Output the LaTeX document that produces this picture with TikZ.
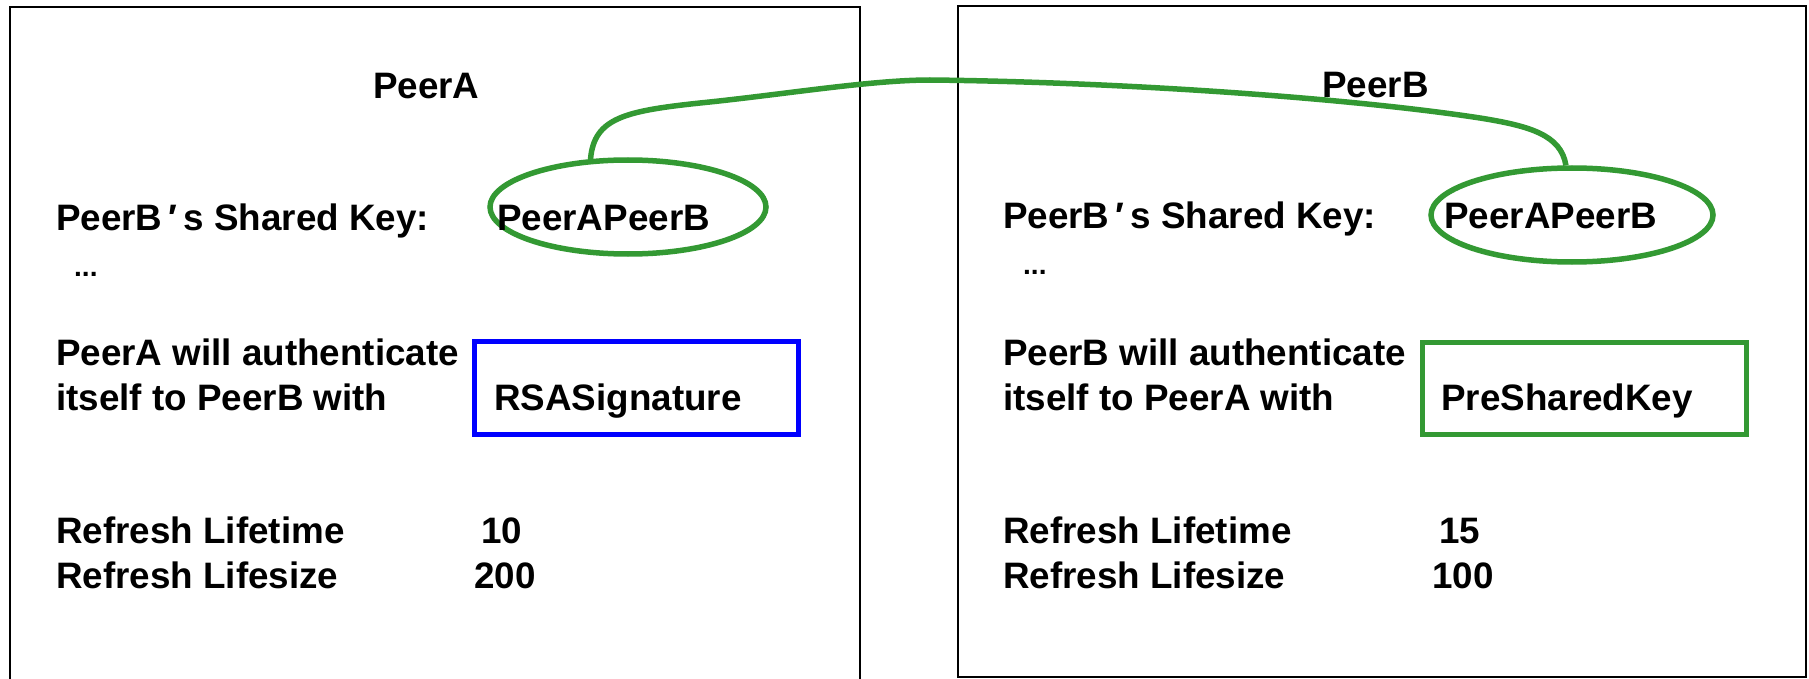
\documentclass[tikz,border=0pt]{standalone}
\usepackage{fontspec}
\setmainfont{Liberation Sans}
\usetikzlibrary{shapes.geometric}
\definecolor{kgreen}{RGB}{51,153,51}
\definecolor{kblue}{RGB}{0,0,255}
\tikzset{
  txt/.style={anchor=base west, inner sep=0pt, font=\fontsize{36.8}{44}\selectfont\bfseries},
  dots/.style={anchor=base west, inner sep=0pt, font=\fontsize{28}{32}\selectfont\bfseries},
  frame/.style={draw=black, line width=2pt},
  keyell/.style={draw=kgreen, line width=5.5pt, ellipse, inner sep=0pt},
  authbox/.style={draw, line width=5pt, rectangle, inner sep=0pt},
  link/.style={draw=kgreen, line width=5.5pt}
}
\begin{document}
\begin{tikzpicture}[x=1pt,y=-1pt]
\useasboundingbox (0,0) rectangle (1809,679);
\fill[white] (0,0) rectangle (1809,679);
% frames
\draw[frame] (10,690) -- (10,7) -- (860,7) -- (860,690);
\draw[frame] (958,6) rectangle (1806,677);
% ellipses
\node[keyell, minimum width=276pt, minimum height=94pt] (ellA) at (628,207) {};
\node[keyell, minimum width=282pt, minimum height=94pt] (ellB) at (1572,215) {};
% auth boxes
\node[authbox, draw=kblue, minimum width=324pt, minimum height=93pt] (boxA) at (636.5,388) {};
\node[authbox, draw=kgreen, minimum width=324pt, minimum height=92pt] (boxB) at (1584.5,388.5) {};
% left texts
\node[txt] (titleA) at (373,99) {PeerA};
\node[txt] (skA) at (56,230) {PeerB\,′\,s Shared Key:};
\node[txt] (keyA) at (497,230) {PeerAPeerB};
\node[dots] (dotsA) at (74,276) {...};
\node[txt] (authA1) at (56,365) {PeerA will authenticate};
\node[txt] (authA2) at (56,410) {itself to PeerB with};
\node[txt] (methA) at (494,410) {RSASignature};
\node[txt] (rltA) at (56,543) {Refresh Lifetime};
\node[txt] (rltvA) at (481,543) {10};
\node[txt] (rlsA) at (56,588) {Refresh Lifesize};
\node[txt] (rlsvA) at (474,588) {200};
% right texts
\node[txt] (titleB) at (1322,98) {PeerB};
\node[txt] (skB) at (1003,228) {PeerB\,′\,s Shared Key:};
\node[txt] (keyB) at (1444,228) {PeerAPeerB};
\node[dots] (dotsB) at (1023,274) {...};
\node[txt] (authB1) at (1003,365) {PeerB will authenticate};
\node[txt] (authB2) at (1003,410) {itself to PeerA with};
\node[txt] (methB) at (1441,410) {PreSharedKey};
\node[txt] (rltB) at (1003,543) {Refresh Lifetime};
\node[txt] (rltvB) at (1439,543) {15};
\node[txt] (rlsB) at (1003,588) {Refresh Lifesize};
\node[txt] (rlsvB) at (1432,588) {100};
% link between shared keys
\draw[link] (ellA.128) .. controls (594,118) and (625,111) .. (700,103)
  .. controls (780,95) and (870,80) .. (930,80)
  .. controls (1120,82) and (1350,98) .. (1480,118)
  .. controls (1530,126) and (1561,135) .. (ellB.97);
\end{tikzpicture}
\end{document}
